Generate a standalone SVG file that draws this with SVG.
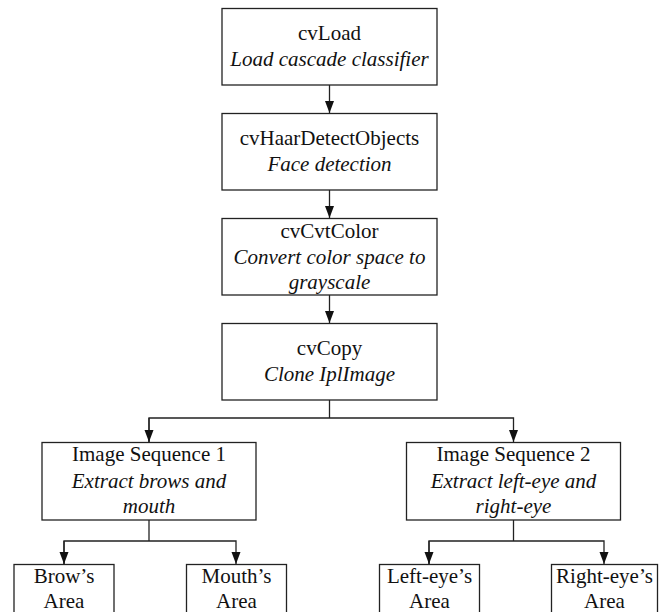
<svg xmlns="http://www.w3.org/2000/svg" width="671" height="612" viewBox="0 0 671 612">
<style>
.box{fill:#fff;stroke:#222;stroke-width:1.3}
.c{fill:none;stroke:#222;stroke-width:1.3}
text{font-family:"Liberation Serif","Times New Roman",serif;font-size:21px;fill:#111;text-anchor:middle}
.i{font-style:italic}
</style>
<defs>
<marker id="ah" markerUnits="userSpaceOnUse" markerWidth="13" markerHeight="11" refX="12" refY="4.5" orient="auto">
<path d="M0,0 L12,4.5 L0,9 Z" fill="#111"/>
</marker>
</defs>
<rect width="671" height="612" fill="#fff"/>
<g id="connectors">
<line class="c" x1="329.5" y1="85" x2="329.5" y2="113" marker-end="url(#ah)"/>
<line class="c" x1="329.5" y1="190" x2="329.5" y2="218" marker-end="url(#ah)"/>
<line class="c" x1="329.5" y1="295" x2="329.5" y2="323" marker-end="url(#ah)"/>
<polyline class="c" points="329.5,400 329.5,418"/>
<polyline class="c" points="149,442 149,418 513.5,418 513.5,442" marker-end="url(#ah)"/>
<line class="c" x1="149" y1="418" x2="149" y2="442" marker-end="url(#ah)"/>
<polyline class="c" points="149,520 149,541"/>
<polyline class="c" points="64,564 64,541 236,541 236,564" marker-end="url(#ah)"/>
<line class="c" x1="64" y1="541" x2="64" y2="564" marker-end="url(#ah)"/>
<polyline class="c" points="513.5,520 513.5,541"/>
<polyline class="c" points="429,564 429,541 604,541 604,564" marker-end="url(#ah)"/>
<line class="c" x1="429" y1="541" x2="429" y2="564" marker-end="url(#ah)"/>
</g>
<g id="cvLoad">
<rect class="box" x="222" y="8.5" width="215" height="76.5"/>
<text x="329.5" y="40">cvLoad</text>
<text class="i" x="329.5" y="66">Load cascade classifier</text>
</g>
<g id="cvHaarDetectObjects">
<rect class="box" x="222" y="113.5" width="215" height="76.5"/>
<text x="329.5" y="145">cvHaarDetectObjects</text>
<text class="i" x="329.5" y="171">Face detection</text>
</g>
<g id="cvCvtColor">
<rect class="box" x="222" y="218.5" width="215" height="76.5"/>
<text x="329.5" y="237.5">cvCvtColor</text>
<text class="i" x="329.5" y="263.5">Convert color space to</text>
<text class="i" x="329.5" y="288.5">grayscale</text>
</g>
<g id="cvCopy">
<rect class="box" x="222" y="323.5" width="215" height="76.5"/>
<text x="329.5" y="355">cvCopy</text>
<text class="i" x="329.5" y="381">Clone IplImage</text>
</g>
<g id="seq1">
<rect class="box" x="42" y="442.5" width="214" height="77.5"/>
<text x="149" y="461">Image Sequence 1</text>
<text class="i" x="149" y="488">Extract brows and</text>
<text class="i" x="149" y="513">mouth</text>
</g>
<g id="seq2">
<rect class="box" x="406.5" y="442.5" width="214" height="77.5"/>
<text x="513.5" y="461">Image Sequence 2</text>
<text class="i" x="513.5" y="488">Extract left-eye and</text>
<text class="i" x="513.5" y="513">right-eye</text>
</g>
<g id="brow">
<rect class="box" x="14" y="564.5" width="100" height="60"/>
<text x="64" y="583">Brow’s</text>
<text x="64" y="608">Area</text>
</g>
<g id="mouth">
<rect class="box" x="186.5" y="564.5" width="100" height="60"/>
<text x="236.5" y="583">Mouth’s</text>
<text x="236.5" y="608">Area</text>
</g>
<g id="lefteye">
<rect class="box" x="379.5" y="564.5" width="100" height="60"/>
<text x="429.5" y="583">Left-eye’s</text>
<text x="429.5" y="608">Area</text>
</g>
<g id="righteye">
<rect class="box" x="551.5" y="564.5" width="106" height="60"/>
<text x="604.5" y="583">Right-eye’s</text>
<text x="604.5" y="608">Area</text>
</g>
</svg>
